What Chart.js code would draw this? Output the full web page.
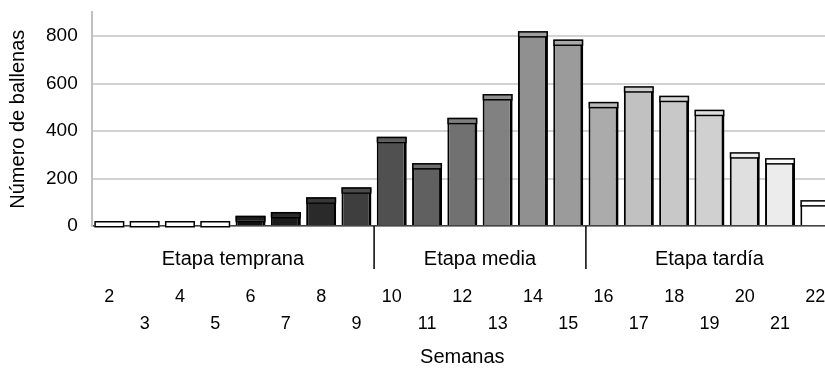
<!DOCTYPE html>
<html>
<head>
<meta charset="utf-8">
<script src="https://cdn.jsdelivr.net/npm/chart.js@4/dist/chart.umd.min.js"></script>
<style>
  html, body { margin: 0; padding: 0; background: #fff; overflow: hidden; }
  canvas { display: block; }
</style>
</head>
<body>
<canvas id="whale-chart" width="835" height="370"></canvas>
<script>
// weeks on the x axis
const weeks = ["2", "3", "4", "5", "6", "7", "8", "9", "10", "11", "12",
  "13", "14", "15", "16", "17", "18", "19", "20", "21", "22"];

// number of whales per week (front face of each bar)
const whales = [0, 0, 0, 0, 22, 38, 100, 142, 355, 244, 435,
  535, 800, 765, 502, 568, 528, 469, 290, 265, 88];

// grey shade of each bar, dark -> light along the season
const barColors = ["#ffffff", "#ffffff", "#ffffff", "#ffffff", "#111111", "#1c1c1c",
  "#2a2a2a", "#3e3e3e", "#505050", "#606060", "#717171", "#818181", "#909090",
  "#9b9b9b", "#ababab", "#c1c1c1", "#c8c8c8", "#d0d0d0", "#dfdfdf", "#ececec", "#ffffff"];

// stages: name, first and last week index
const stageNames = ["Etapa temprana", "Etapa media", "Etapa tardía"];
const stageFirst = [0, 8, 14];
const stageLast = [7, 13, 20];

const FONT = "'Liberation Sans', Arial, sans-serif";

// draws the little 3D cap on top of each bar
const capPlugin = {
  id: "caps",
  afterDatasetsDraw(chart) {
    const ctx = chart.ctx;
    const meta = chart.getDatasetMeta(0);
    meta.data.forEach((bar, i) => {
      const left = bar.x - bar.width / 2;
      const h = 5;
      ctx.save();
      ctx.fillStyle = lighten(barColors[i], 14);
      ctx.fillRect(left, bar.y - h, bar.width, h);
      ctx.strokeStyle = "#000";
      ctx.lineWidth = 1.5;
      ctx.strokeRect(left + 0.75, bar.y - h + 0.75, bar.width - 1.5, h);
      ctx.restore();
    });
  },
};

// stage labels and separators under the x axis
const stagePlugin = {
  id: "stages",
  afterDraw(chart) {
    const ctx = chart.ctx;
    const xs = chart.scales.x;
    const top = xs.top;
    ctx.save();
    ctx.fillStyle = "#000";
    ctx.font = "20px " + FONT;
    ctx.textAlign = "center";
    ctx.textBaseline = "middle";
    stageNames.forEach((name, i) => {
      const a = xs.getPixelForValue(stageFirst[i]);
      const b = xs.getPixelForValue(stageLast[i]);
      ctx.fillText(name, (a + b) / 2, top + 33);
    });
    ctx.strokeStyle = "#000";
    ctx.lineWidth = 1.5;
    for (let i = 1; i < stageFirst.length; i++) {
      const sx = (xs.getPixelForValue(stageFirst[i] - 1) + xs.getPixelForValue(stageFirst[i])) / 2;
      ctx.beginPath();
      ctx.moveTo(sx, top);
      ctx.lineTo(sx, top + 43);
      ctx.stroke();
    }
    ctx.restore();
  },
};

function lighten(hex, amt) {
  const n = parseInt(hex.slice(1), 16);
  const c = (v) => Math.min(255, v + amt);
  const r = c((n >> 16) & 255), g = c((n >> 8) & 255), b = c(n & 255);
  return "rgb(" + r + "," + g + "," + b + ")";
}

new Chart(document.getElementById("whale-chart").getContext("2d"), {
  type: "bar",
  data: {
    labels: weeks,
    datasets: [{
      data: whales,
      backgroundColor: barColors,
      borderColor: "#000",
      borderWidth: { left: 2, right: 3, top: 0, bottom: 0 },
      borderSkipped: false,
      barPercentage: 0.85,
      categoryPercentage: 1.0,
    }],
  },
  options: {
    responsive: false,
    animation: false,
    layout: { padding: { left: 6, right: 2, top: 2, bottom: 1 } },
    plugins: {
      legend: { display: false },
      tooltip: { enabled: false },
    },
    scales: {
      x: {
        grid: { display: false, drawTicks: false },
        border: { display: true, color: "#444", width: 1.5 },
        ticks: {
          color: "#000",
          font: { family: FONT, size: 18, lineHeight: 1.5 },
          padding: 4,
          maxRotation: 0,
          autoSkip: false,
          // two blank lines leave room for the stage row, odd weeks drop one more line
          callback: (v, i) => (i % 2 === 0 ? ["", "", weeks[i]] : ["", "", "", weeks[i]]),
        },
        title: {
          display: true,
          text: "Semanas",
          color: "#000",
          font: { family: FONT, size: 20 },
          padding: { top: 3, bottom: 0 },
        },
      },
      y: {
        min: 0,
        max: 900,
        grid: {
          color: "#d2d2d2",
          lineWidth: 2,
          drawTicks: true,
          tickLength: 13,
          tickColor: "rgba(0,0,0,0)",
        },
        border: { display: true, color: "#c0c0c0", width: 2 },
        ticks: {
          stepSize: 100,
          color: "#000",
          font: { family: FONT, size: 19 },
          padding: 1,
          callback: (v) => (v % 200 === 0 ? v : ""),
        },
        title: {
          display: true,
          text: "Número de ballenas",
          color: "#000",
          font: { family: FONT, size: 20 },
          padding: { top: 0, bottom: 15 },
        },
      },
    },
  },
  plugins: [capPlugin, stagePlugin],
});
</script>
</body>
</html>
